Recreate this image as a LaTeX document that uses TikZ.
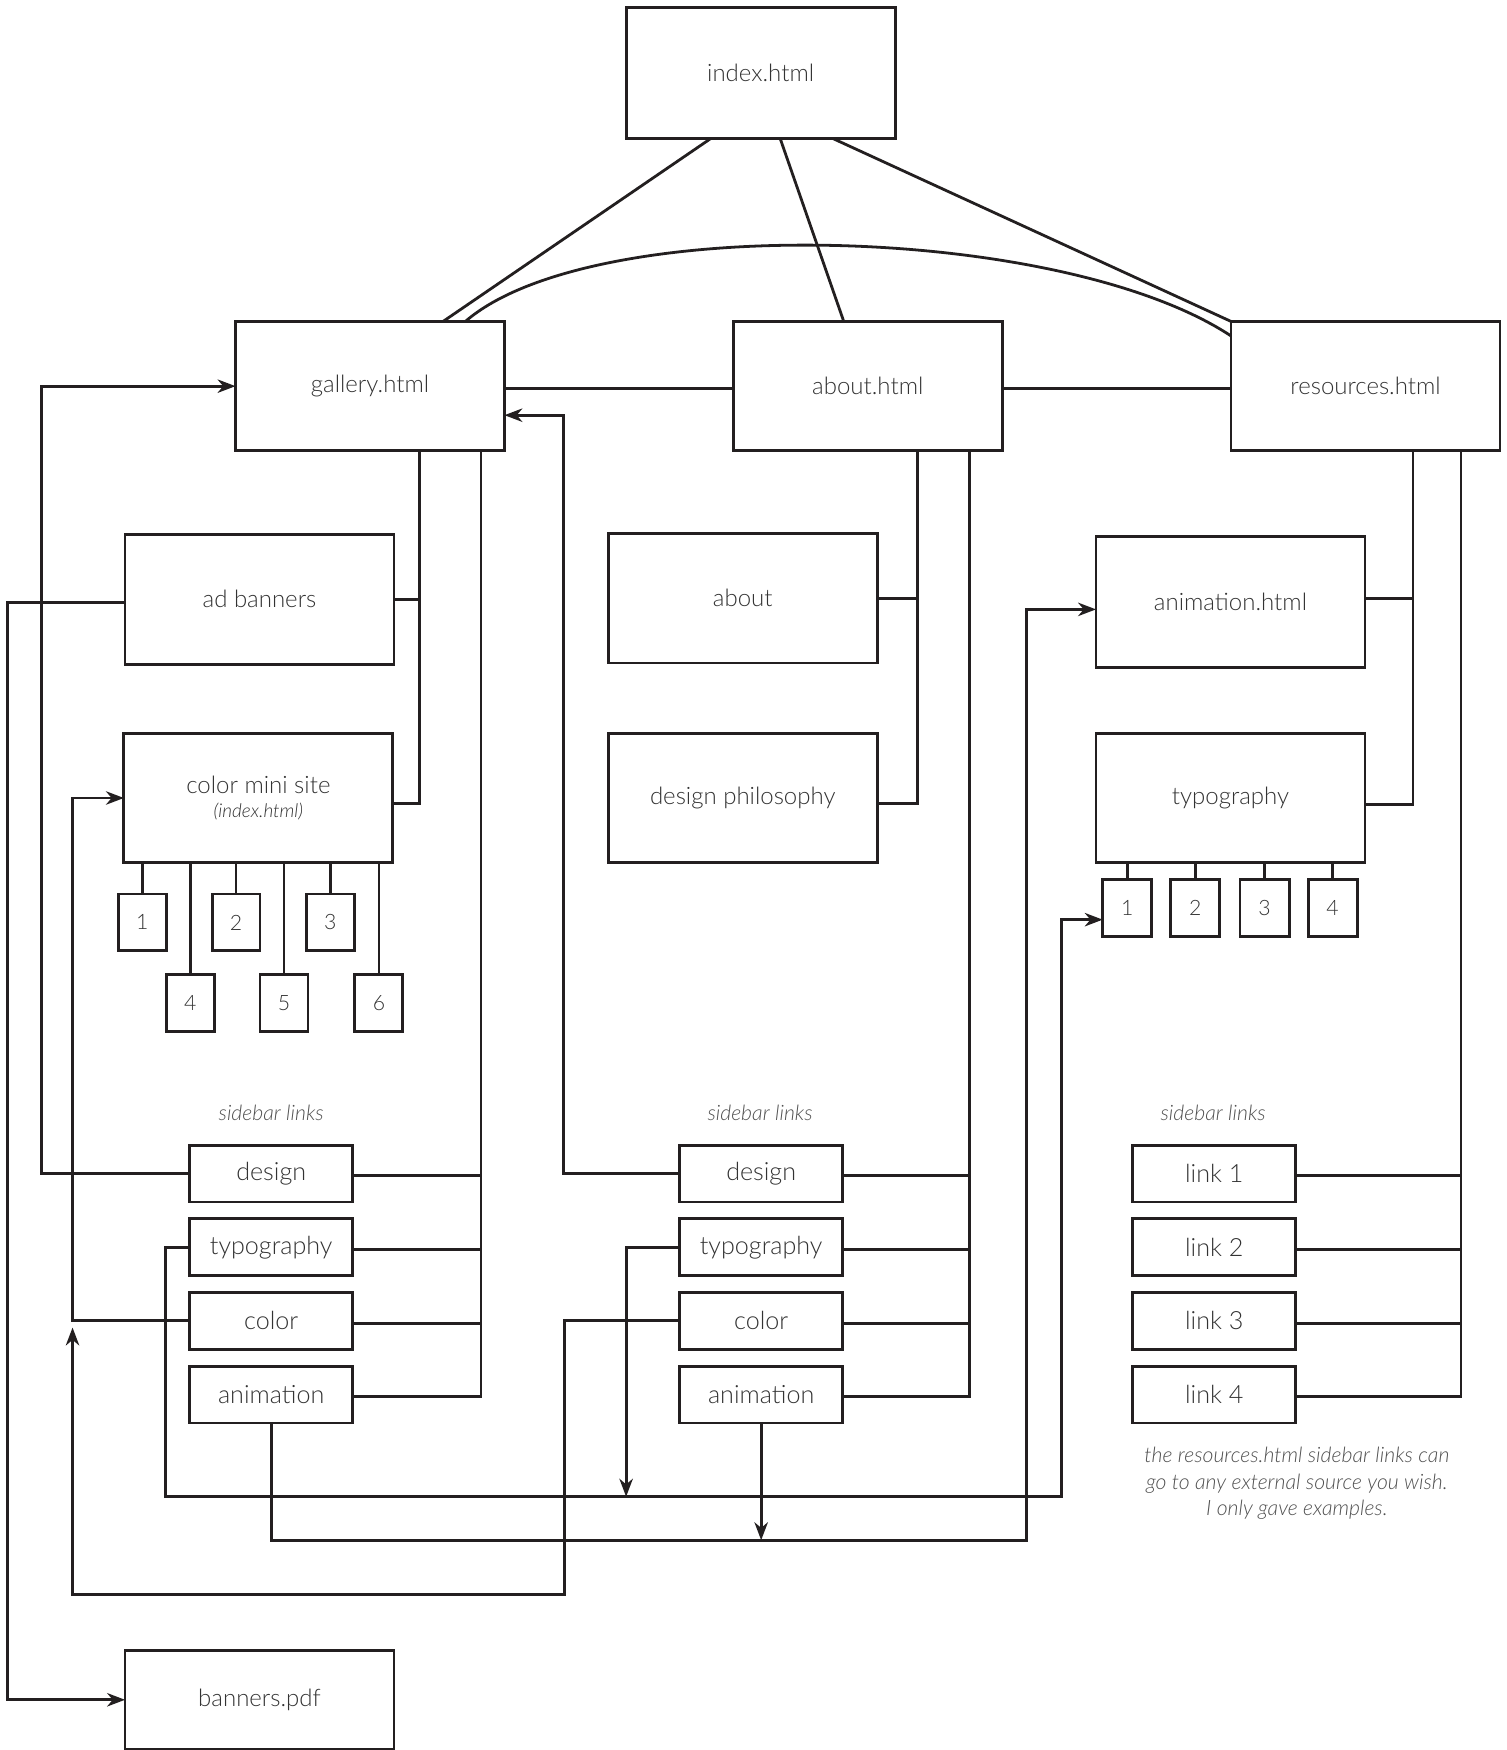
\documentclass[tikz,border=0pt]{standalone}
\usepackage{fontspec}
\setmainfont{Lato}[UprightFont=* Light, ItalicFont=* Light Italic]
\usetikzlibrary{arrows.meta,calc}
\definecolor{ink}{HTML}{231F20}
\definecolor{txt}{HTML}{333333}
\definecolor{soft}{HTML}{505050}
\tikzset{
  box/.style={draw=ink, line width=2.6pt, inner sep=0pt, outer sep=0pt, text=txt,
    font=\fontsize{21.5}{25}\selectfont, align=center},
  bigbox/.style={box, minimum width=241pt, minimum height=116pt},
  sidebox/.style={box, minimum width=146pt, minimum height=51pt, font=\fontsize{22.5}{25}\selectfont},
  numbox/.style={box, minimum width=43pt, minimum height=51pt, font=\fontsize{19}{20}\selectfont},
  wire/.style={draw=ink, line width=2.5pt},
  arr/.style={wire, -{Stealth[length=16pt,width=12pt,inset=5pt]}},
  note/.style={text=soft, font=\fontsize{19}{24}\itshape\selectfont, align=center, inner sep=0pt}
}
\begin{document}
\begin{tikzpicture}[x=1pt,y=-1pt]
\useasboundingbox (0,0) rectangle (1350,1568);
\fill[white] (0,0) rectangle (1350,1568);

% top level
\node[bigbox, minimum height=117pt] (index) at (681.5,65.5) {index.html};
\node[bigbox] (gal) at (331.5,346) {gallery.html};
\node[bigbox] (abt) at (777.5,346) {about.html};
\node[bigbox] (res) at (1223.5,346) {resources.html};

% gallery children
\node[bigbox] (adb) at (232.5,537) {ad banners};
\node[bigbox] (cms) at (231.5,715) {color mini site\\[-3pt]{\fontsize{17}{18}\itshape\selectfont (index.html)}};
\node[numbox] (s1) at (127.5,826.5) {1};
\node[numbox] (s2) at (211.5,826.5) {2};
\node[numbox] (s3) at (296,826.5) {3};
\node[numbox] (s4) at (170.5,898.5) {4};
\node[numbox] (s5) at (254.5,898.5) {5};
\node[numbox] (s6) at (339.5,898.5) {6};

% about children
\node[bigbox] (asub) at (665.5,536) {about};
\node[bigbox] (dphil) at (665.5,715) {design philosophy};

% resources children
\node[bigbox, minimum height=117pt] (anim) at (1102.5,539.5) {animation.html};
\node[bigbox] (typo) at (1102.5,715) {typography};
\node[numbox, minimum width=44pt] (t1) at (1010,813.5) {1};
\node[numbox, minimum width=44pt] (t2) at (1071,813.5) {2};
\node[numbox, minimum width=44pt] (t3) at (1133,813.5) {3};
\node[numbox, minimum width=44pt] (t4) at (1194,813.5) {4};

% sidebar labels
\node[note] (lbl1) at (243,997) {sidebar links};
\node[note] (lbl2) at (681,997) {sidebar links};
\node[note] (lbl3) at (1087,997) {sidebar links};

% left sidebar
\node[sidebox] (ls1) at (243,1051.5) {design};
\node[sidebox] (ls2) at (243,1117.5) {typography};
\node[sidebox] (ls3) at (243,1183.5) {color};
\node[sidebox] (ls4) at (243,1249.5) {animation};
% middle sidebar
\node[sidebox] (ms1) at (682,1051.5) {design};
\node[sidebox] (ms2) at (682,1117.5) {typography};
\node[sidebox] (ms3) at (682,1183.5) {color};
\node[sidebox] (ms4) at (682,1249.5) {animation};
% right sidebar
\node[sidebox] (rs1) at (1088,1051.5) {link 1};
\node[sidebox] (rs2) at (1088,1117.5) {link 2};
\node[sidebox] (rs3) at (1088,1183.5) {link 3};
\node[sidebox] (rs4) at (1088,1249.5) {link 4};

\node[note] (fn) at (1162,1329) {the resources.html sidebar links can\\go to any external source you wish.\\I only gave examples.};

\node[bigbox, minimum height=89pt] (bpdf) at (232.5,1523) {banners.pdf};

% index connectors
\draw[wire] ($(index.south west)+(76,0)$) -- ($(gal.north west)+(186,0)$);
\draw[wire] ($(index.south west)+(138,0)$) -- ($(abt.north west)+(99,0)$);
\draw[wire] ($(index.south east)+(-56,0)$) -- (res.north west);
\draw[wire] ($(gal.north west)+(206,0)$) .. controls (530,190) and (950,200) .. ($(res.north west)+(0,13)$);
\draw[wire] ($(gal.east)+(0,2)$) -- ($(abt.west)+(0,2)$);
\draw[wire] ($(abt.east)+(0,2)$) -- ($(res.west)+(0,2)$);

% trunks
\coordinate (gA) at ($(gal.south west)+(165,0)$);
\coordinate (gB) at ($(gal.south west)+(220,0)$);
\coordinate (aA) at ($(abt.south west)+(165,0)$);
\coordinate (aB) at ($(abt.south west)+(212,0)$);
\coordinate (rA) at ($(res.south west)+(163,0)$);
\coordinate (rB) at ($(res.south west)+(206,0)$);

\draw[wire] (adb.east) -| (gA);
\draw[wire] ($(cms.east)+(0,5)$) -| (gA);
\draw[wire] (asub.east) -| (aA);
\draw[wire] ($(dphil.east)+(0,5)$) -| (aA);
\draw[wire] ($(anim.east)+(0,-3)$) -| (rA);
\draw[wire] ($(typo.east)+(0,6)$) -| (rA);

\foreach \n in {ls1,ls2,ls3,ls4} \draw[wire] ($(\n.east)+(0,2)$) -| (gB);
\foreach \n in {ms1,ms2,ms3,ms4} \draw[wire] ($(\n.east)+(0,2)$) -| (aB);
\foreach \n in {rs1,rs2,rs3,rs4} \draw[wire] ($(\n.east)+(0,2)$) -| (rB);

% small box stems
\foreach \n in {s1,s2,s3,s4,s5,s6} \draw[wire] (\n.north) -- (\n.north |- cms.south);
\foreach \n in {t1,t2,t3,t4} \draw[wire] (\n.north) -- (\n.north |- typo.south);

% cross links
\draw[arr] (ls1.west) -| (37,346) -- (gal.west);
\draw[arr] ($(adb.west)+(0,3)$) -| (7,1523) -- (bpdf.west);
\draw[arr] (ls3.west) -| (65,715) -- (cms.west);
\draw[arr] (ms3.west) -| (506,1429) -| ($(ls3.west)+(-105,6)$);
\draw[arr] (ls2.west) -| (148,1341) -| (951,824) -- ($(t1.west)+(0,10.5)$);
\draw[arr] (ms2.west) -| (561,1341);
\draw[arr] (ls4.south) |- (920,1380) |- ($(anim.west)+(0,6.5)$);
\draw[arr] (ms4.south) -- (ms4.south |- 0,1380);
\draw[arr] (ms1.west) -| (505,372) -- ($(gal.east)+(0,26)$);
\end{tikzpicture}
\end{document}
